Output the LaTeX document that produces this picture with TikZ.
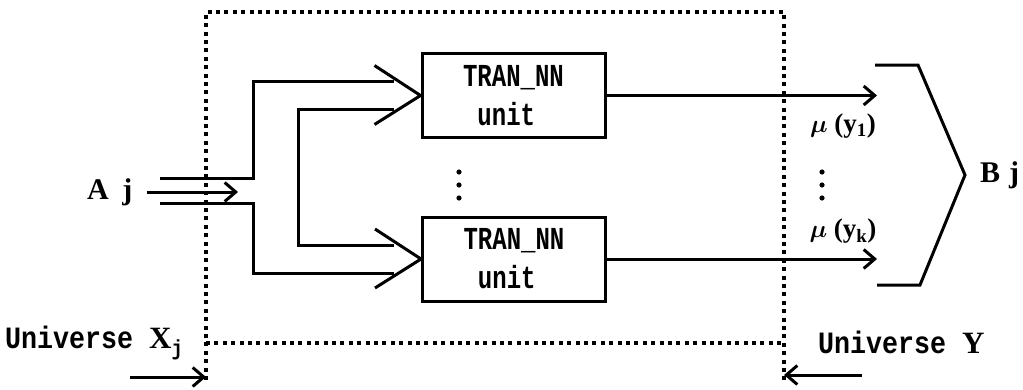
\documentclass[tikz,border=0pt]{standalone}
\usepackage{fontspec}
\setmainfont{Liberation Serif}
\newfontfamily\boxfont{Liberation Mono}[FakeStretch=0.75]
\newfontfamily\unifont{Liberation Mono}[FakeStretch=0.86]
\usepackage{tikz}
\usetikzlibrary{arrows.meta}
\usetikzlibrary{positioning}
\usetikzlibrary{calc}

\begin{document}
\begin{tikzpicture}[x=1pt, y=-1pt,
    wire/.style={line width=3pt},
    tip/.style={line width=3pt, -{Straight Barb[length=11pt, width=19pt, line width=3pt]}},
    fence/.style={line width=3.3pt, dash pattern=on 4pt off 4.4pt},
    unitbox/.style={draw, line width=3pt, minimum width=183pt, minimum height=84pt,
      inner sep=0pt, align=left, font=\boxfont\bfseries\fontsize{32}{39}\selectfont},
    bigletter/.style={font=\bfseries\fontsize{30}{30}\selectfont, inner sep=0pt},
    unilabel/.style={anchor=west, inner sep=0pt, font=\unifont\bfseries\fontsize{31}{31}\selectfont},
    mulabel/.style={inner sep=0pt, font=\bfseries\fontsize{27}{27}\selectfont}]
\useasboundingbox (0,0) rectangle (1023,389);

  \coordinate (nw) at (206,12);
  \coordinate (ne) at (784,12);
  \coordinate (sw) at (206,380);
  \coordinate (se) at (784,380);
  \coordinate (xl) at (206,343);
  \coordinate (xr) at (784,343);
  \draw [fence] (sw) -- (nw) -- (ne) -- (se);
  \draw [fence] (xl) -- (xr);

  \node [unitbox] (unit1) at (513.5,95.5) {TRAN\_NN\\~unit};
  \node [unitbox] (unit2) at (514,259) {TRAN\_NN\\~unit};
  \foreach \u in {unit1,unit2}
    \draw [wire] ([shift={(-46,-30)}]\u.west) -- (\u.west) -- ++(-46,29);

  \node [bigletter, anchor=west] (aj) at (87,192) {A\hspace{0.45em}j};
  \coordinate (ajtip) at (238,192);
  \draw [tip] ([xshift=14pt]aj.east) -- (ajtip);
  \coordinate (aup) at (160,178);
  \coordinate (alo) at (160,203);
  \coordinate (fork) at (253,192);
  \draw [wire] (aup) -- (aup -| fork) |- ([shift={(-27,-14)}]unit1.west);
  \draw [wire] (alo) -- (alo -| fork) |- ([shift={(-27,14)}]unit2.west);
  \draw [wire] ([shift={(-27,14)}]unit1.west) -- ++(-95,0) |- ([shift={(-27,-14)}]unit2.west);

  \foreach \y in {172,185,198} {
    \fill (459,\y) circle (2.6);
    \fill (822,\y) circle (2.6);
  }

  \coordinate (b1) at (875,65);
  \coordinate (b2) at (918,65);
  \coordinate (b3) at (965,175);
  \coordinate (b4) at (920,285);
  \coordinate (b5) at (877,285);
  \draw [wire] (b1) -- (b2) -- (b3) -- (b4) -- (b5);
  \draw [tip] (unit1.east) -- (unit1.east -| b5);
  \draw [tip] (unit2.east) -- (unit2.east -| b5);
  \node [mulabel] (mu1) at (843,126) {{\boldmath$\mu$}\ (y\textsubscript{1})};
  \node [mulabel] (muk) at (843,231) {{\boldmath$\mu$}\ (y\textsubscript{k})};
  \node [bigletter, anchor=west] (bj) at (980,175) {B\hspace{0.3em}j};

  \node [unilabel] (univx) at (5,343) {Universe {\rmfamily X}\textsubscript{j}};
  \node [unilabel] (univy) at (818,342) {Universe {\rmfamily Y}};
  \coordinate (ux) at (130,377);
  \coordinate (uy) at (862,375);
  \draw [tip] (ux) -- (ux -| sw);
  \draw [tip] (uy) -- (uy -| se);
\end{tikzpicture}
\end{document}
